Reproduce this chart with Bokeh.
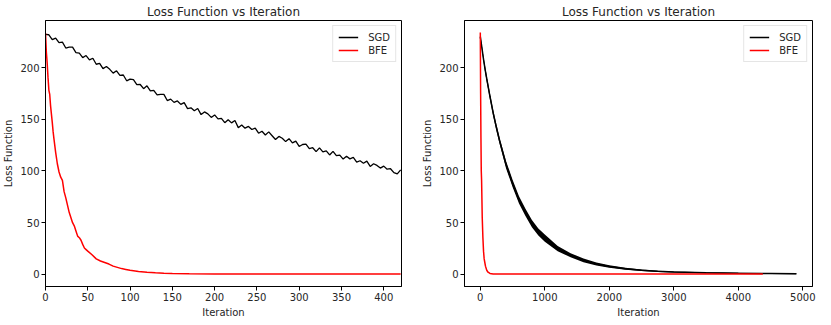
from bokeh.plotting import figure
from bokeh.layouts import row
from bokeh.models import Range1d, FixedTicker, Legend, LegendItem
from bokeh.embed import file_html
from bokeh.resources import INLINE

# ---------------- data ----------------
title_text = "Loss Function vs Iteration"
x_label = "Iteration"
y_label = "Loss Function"
series_names = ["SGD", "BFE"]

# Left panel: SGD sampled every 4 iterations
sgd_left_iter = list(range(0, 421, 4))
sgd_left_loss = [
    232.0, 231.7, 227.1, 228.5, 224.1, 224.6, 218.9, 219.7, 219.7, 214.4,
    213.9, 209.6, 211.6, 207.5, 209.0, 203.2, 204.0, 199.0, 201.0, 198.3,
    194.6, 196.9, 192.4, 192.8, 187.2, 188.8, 188.3, 183.5, 183.6, 179.6,
    182.3, 177.5, 177.9, 173.5, 174.1, 174.1, 168.1, 169.5, 166.3, 167.7,
    164.4, 166.1, 160.3, 161.1, 158.3, 160.4, 154.5, 157.1, 155.2, 151.8,
    154.2, 150.3, 150.9, 146.7, 149.6, 146.5, 148.8, 141.9, 144.5, 141.4,
    143.1, 140.1, 141.5, 136.5, 138.4, 134.8, 137.8, 134.1, 130.4, 133.4,
    131.6, 128.4, 131.2, 127.1, 128.8, 123.7, 125.6, 126.0, 121.7, 122.5,
    118.7, 122.4, 118.5, 119.5, 115.5, 119.0, 114.8, 115.4, 111.5, 114.2,
    111.7, 113.1, 108.5, 109.9, 107.5, 109.5, 104.4, 107.0, 105.4, 102.8,
    104.7, 101.7, 102.2, 98.4, 97.2, 101.0,
]

# Left panel: BFE
bfe_left_iter = [0, 1, 2, 3, 4, 5, 6, 7, 8, 9, 10, 12, 14, 16, 18, 20, 22, 24,
                 26, 28, 30, 32, 34, 36, 38, 40, 42, 44, 46, 48, 50, 55, 60, 65,
                 70, 75, 80, 85, 90, 95, 100, 110, 120, 130, 140, 150, 170, 200,
                 250, 300, 350, 400, 420]
bfe_left_loss = [233.5, 215.0, 204.0, 190.0, 178.0, 174.0, 163.0, 155.0, 147.0,
                 138.0, 131.0, 118.0, 107.0, 99.0, 94.0, 91.0, 80.0, 74.0, 67.0,
                 60.0, 55.0, 50.0, 47.0, 42.0, 37.0, 35.5, 33.0, 29.0, 25.5, 24.0,
                 22.5, 19.0, 15.0, 13.0, 11.5, 10.0, 8.0, 6.8, 5.6, 4.8, 4.0, 2.9,
                 2.1, 1.6, 1.2, 0.9, 0.6, 0.4, 0.3, 0.3, 0.3, 0.3, 0.3]

# Right panel: SGD noisy band (center, lower and upper envelope)
sgd_right_iter = [0, 25, 50, 75, 100, 150, 200, 250, 300, 400, 500, 600, 700,
                  800, 900, 1000, 1200, 1400, 1600, 1800, 2000, 2250, 2500,
                  2750, 3000, 3500, 4000, 4500, 4900]
sgd_right_loss = [230.0, 219.0, 208.0, 198.0, 189.0, 172.0, 156.0, 142.0, 129.0,
                  106.0, 88.0, 72.0, 60.0, 49.0, 41.0, 35.0, 25.0, 18.5, 13.5,
                  10.0, 7.6, 5.5, 4.0, 3.0, 2.3, 1.5, 1.0, 0.8, 0.7]
sgd_right_low = [228.5, 217.0, 205.5, 195.0, 186.0, 169.0, 153.0, 139.0, 126.0,
                 102.5, 84.5, 68.5, 56.5, 45.5, 37.5, 31.5, 22.5, 16.5, 11.7,
                 8.6, 6.4, 4.6, 3.2, 2.4, 1.8, 1.0, 0.5, 0.3, 0.2]
sgd_right_high = [232.0, 221.0, 210.5, 201.0, 192.0, 175.0, 159.0, 145.0, 132.0,
                  109.5, 91.5, 75.5, 63.5, 52.5, 44.5, 38.5, 27.5, 20.5, 15.3,
                  11.4, 8.8, 6.4, 4.8, 3.6, 2.8, 2.0, 1.5, 1.3, 1.2]

# Right panel: BFE
bfe_right_iter = [0, 5, 10, 15, 20, 30, 40, 50, 60, 70, 80, 100, 120, 150, 200,
                  300, 500, 1000, 2000, 3000, 4000, 4380]
bfe_right_loss = [234.0, 175.0, 132.0, 100.0, 91.0, 55.0, 36.0, 22.5, 15.0,
                  11.5, 8.0, 4.0, 2.1, 0.9, 0.4, 0.3, 0.3, 0.3, 0.3, 0.3, 0.3,
                  0.3]

y_ticks = [0, 50, 100, 150, 200]
x_ticks_left = [0, 50, 100, 150, 200, 250, 300, 350, 400]
x_ticks_right = [0, 1000, 2000, 3000, 4000, 5000]

# ---------------- styling ----------------
FONT = "DejaVu Sans"
TXT = "#262626"


def make_fig(xr, xt, frame_w, mb_right):
    p = figure(output_backend="svg", toolbar_location=None,
               frame_width=frame_w, frame_height=266,
               x_range=Range1d(*xr), y_range=Range1d(-11.7, 245.5),
               min_border_left=0, min_border_right=mb_right,
               min_border_top=0, min_border_bottom=0)
    p.title.text = title_text
    p.title.align = "center"
    p.title.text_font = FONT
    p.title.text_font_size = "12px"
    p.title.text_font_style = "normal"
    p.title.text_color = TXT
    p.title.standoff = 4
    p.xgrid.visible = False
    p.ygrid.visible = False
    p.outline_line_color = "black"
    p.outline_line_width = 1
    p.outline_line_alpha = 1
    p.background_fill_color = "white"
    p.border_fill_color = "white"
    for ax, ticks in ((p.xaxis[0], xt), (p.yaxis[0], y_ticks)):
        ax.ticker = FixedTicker(ticks=ticks)
        ax.minor_tick_line_color = None
        ax.major_tick_in = 0
        ax.major_tick_out = 4
        ax.major_tick_line_color = "black"
        ax.axis_line_color = "black"
        ax.major_label_text_font = FONT
        ax.major_label_text_font_size = "10px"
        ax.major_label_text_color = TXT
        ax.major_label_standoff = 2
        ax.axis_label_text_font = FONT
        ax.axis_label_text_font_size = "10px"
        ax.axis_label_text_font_style = "normal"
        ax.axis_label_text_color = TXT
        ax.axis_label_standoff = 3
    p.xaxis.axis_label = x_label
    p.yaxis.axis_label = y_label
    return p


def add_legend(p, r_sgd, r_bfe):
    leg = Legend(items=[LegendItem(label=series_names[0], renderers=[r_sgd]),
                        LegendItem(label=series_names[1], renderers=[r_bfe])],
                 location="top_right")
    leg.label_text_font = FONT
    leg.label_text_font_size = "10px"
    leg.label_text_color = TXT
    leg.glyph_width = 20
    leg.glyph_height = 12
    leg.label_height = 12
    leg.spacing = 1
    leg.padding = 5
    leg.margin = 5
    leg.label_standoff = 10
    leg.border_line_color = "#cccccc"
    leg.border_line_width = 1
    leg.background_fill_alpha = 0.9
    p.add_layout(leg)


# Left panel
p1 = make_fig((0, 421), x_ticks_left, 356, 18)
r1 = p1.line(sgd_left_iter, sgd_left_loss, line_color="black", line_width=1.3)
r2 = p1.line(bfe_left_iter, bfe_left_loss, line_color="red", line_width=1.5)
add_legend(p1, r1, r2)

# Right panel
p2 = make_fig((-245, 5150), x_ticks_right, 348, 13)
p2.varea(x=sgd_right_iter, y1=sgd_right_low, y2=sgd_right_high, fill_color="black")
r3 = p2.line(sgd_right_iter, sgd_right_loss, line_color="black", line_width=1.5)
r4 = p2.line(bfe_right_iter, bfe_right_loss, line_color="red", line_width=1.5)
add_legend(p2, r3, r4)

layout = row(p1, p2)
open("out.html", "w").write(file_html(layout, INLINE))
